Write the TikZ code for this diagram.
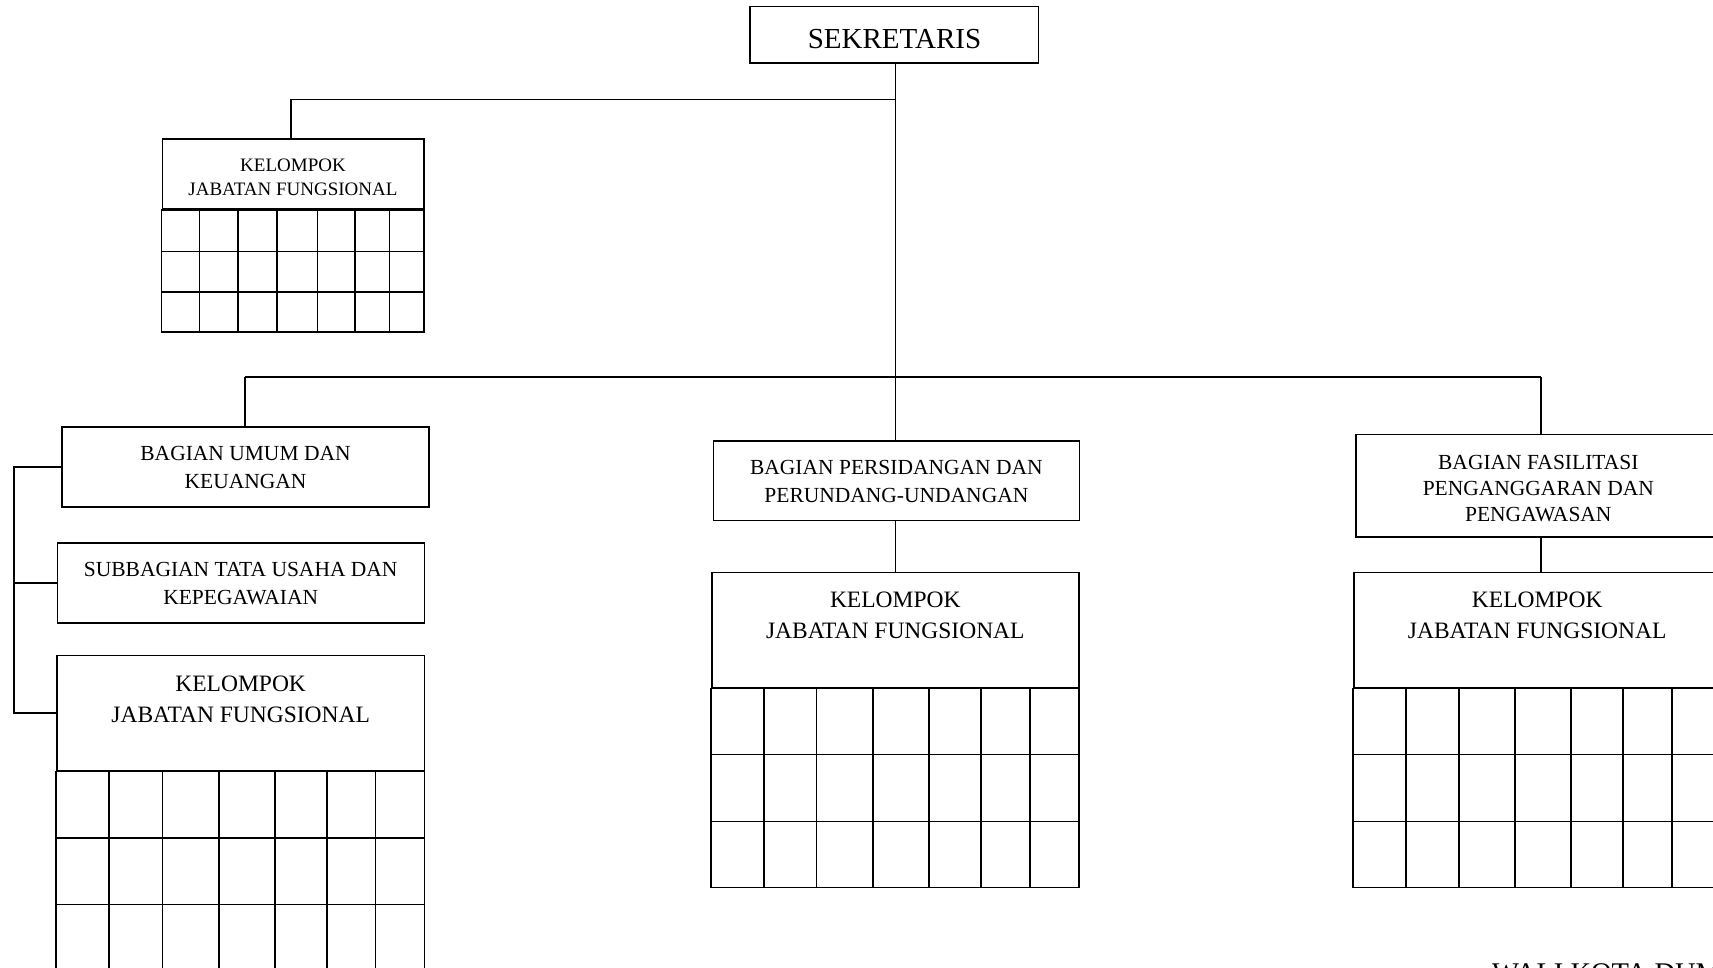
\documentclass[tikz,border=0pt]{standalone}
\usepackage{fontspec}
\setmainfont{Liberation Serif}
\begin{document}
\begin{tikzpicture}[x=1pt,y=-1pt,
  box/.style={draw=black, line width=1.6pt, rectangle, inner sep=0pt, fill=white},
  conn/.style={draw=black, line width=1.6pt},
  gridln/.style={draw=black, line width=1.6pt},
  txt/.style={inner sep=0pt, align=center, anchor=north, text=black},
  fS/.style={font=\fontsize{29}{35}\selectfont},
  fB/.style={font=\fontsize{21.5}{28.3}\selectfont},
  fF/.style={font=\fontsize{21.5}{26.3}\selectfont},
  fK/.style={font=\fontsize{23.5}{31.5}\selectfont},
  fk/.style={font=\fontsize{19}{24.3}\selectfont}]
\useasboundingbox (0,0) rectangle (1713,968);
\clip (0,0) rectangle (1713,968);
\fill[white] (0,0) rectangle (1713,968);

% ---------- junction coordinates ----------
\coordinate (tb) at (895.5,99.5);
\coordinate (tbL) at (291,99.5);
\coordinate (hb) at (895.5,377);
\coordinate (hbL) at (245,377);
\coordinate (hbR) at (1540.7,377);
\coordinate (bx) at (13.8,466);

% ---------- boxes ----------
\node[box, minimum width=288.3pt, minimum height=56.6pt] (sek) at (894.2,35) {};
\node[box, minimum width=261.7pt, minimum height=70pt] (kjf0) at (293.15,174.3) {};
\node[box, minimum width=367pt, minimum height=80pt] (umum) at (245.5,466.7) {};
\node[box, minimum width=367.1pt, minimum height=79.5pt] (sub) at (240.85,583) {};
\node[box, minimum width=367.4pt, minimum height=115.1pt] (kjf1) at (240.7,713.15) {};
\node[box, minimum width=366.2pt, minimum height=79.9pt] (pers) at (896.4,480.65) {};
\node[box, minimum width=367.1pt, minimum height=115.1pt] (kjf2) at (895.25,629.95) {};
\node[box, minimum width=364.6pt, minimum height=102.3pt] (fas) at (1538.3,485.55) {};
\node[box, minimum width=367.1pt, minimum height=115.1pt] (kjf3) at (1537.25,629.95) {};

% ---------- texts ----------
\node[txt, fS] (sek-t) at (894.5,29) {SEKRETARIS};
\node[txt, fk] (kjf0-t) at (293,158.7) {KELOMPOK\\JABATAN FUNGSIONAL};
\node[txt, fB] (umum-t) at (245.5,445.7) {BAGIAN UMUM DAN\\KEUANGAN};
\node[txt, fB] (sub-t) at (240.7,561.7) {SUBBAGIAN TATA USAHA DAN\\KEPEGAWAIAN};
\node[txt, fK] (kjf1-t) at (240.7,675.7) {KELOMPOK\\JABATAN FUNGSIONAL};
\node[txt, fB] (pers-t) at (896.4,459.8) {BAGIAN PERSIDANGAN DAN\\PERUNDANG-UNDANGAN};
\node[txt, fK] (kjf2-t) at (895.3,591.7) {KELOMPOK\\JABATAN FUNGSIONAL};
\node[txt, fF] (fas-t) at (1538.3,454.6) {BAGIAN FASILITASI\\PENGANGGARAN DAN\\PENGAWASAN};
\node[txt, fK] (kjf3-t) at (1537.2,591.7) {KELOMPOK\\JABATAN FUNGSIONAL};
\node[txt, font=\fontsize{28.5}{34}\selectfont, anchor=north west] (wali) at (1492,963) {WALI KOTA DUMAI};

% ---------- grids ----------
% small KJF
\draw[gridln] (kjf0.south west) rectangle (424,331.7);
\foreach \yy in {251.7,292.3} \draw[gridln] (162.3,\yy) -- (424,\yy);
\foreach \xx in {199.3,237.7,277,317.3,355,389.3} \draw[gridln] (\xx,209.3) -- (\xx,331.7);
% left KJF
\draw[gridln] (kjf1.south west) rectangle (424.4,1040);
\foreach \yy in {838.2,904.6,971} \draw[gridln] (57,\yy) -- (424.4,\yy);
\foreach \xx in {109,162.3,218.9,274.8,326.8,375.4} \draw[gridln] (\xx,770.7) -- (\xx,1040);
% middle KJF
\draw[gridln] (kjf2.south west) rectangle (1078.8,887.3);
\foreach \yy in {754.6,821.3} \draw[gridln] (711.7,\yy) -- (1078.8,\yy);
\foreach \xx in {763.8,816.6,872.9,928.7,981.2,1029.8} \draw[gridln] (\xx,687.5) -- (\xx,887.3);
% right KJF
\draw[gridln] (kjf3.south west) rectangle (1720.8,887.3);
\foreach \yy in {754.6,821.3} \draw[gridln] (1353.7,\yy) -- (1720.8,\yy);
\foreach \xx in {1405.7,1458.7,1515,1571,1623,1672} \draw[gridln] (\xx,687.5) -- (\xx,887.3);

% ---------- connectors ----------
\draw[conn] (sek.south -| hb) -- (hb);
\draw[conn] (tb) -- (tbL) -- (tbL |- kjf0.north);
\draw[conn] (hbL) -- (hbR);
\draw[conn] (hbL) -- (hbL |- umum.north);
\draw[conn] (hb) -- (hb |- pers.north);
\draw[conn] (hbR) -- (hbR |- fas.north);
\draw[conn] (pers.south -| hb) -- (hb |- kjf2.north);
\draw[conn] (fas.south -| hbR) -- (hbR |- kjf3.north);
\draw[conn] (umum.west) -- (bx |- umum.west) -- (bx |- kjf1.west) -- (kjf1.west);
\draw[conn] (bx |- sub.west) -- (sub.west);
\end{tikzpicture}
\end{document}
